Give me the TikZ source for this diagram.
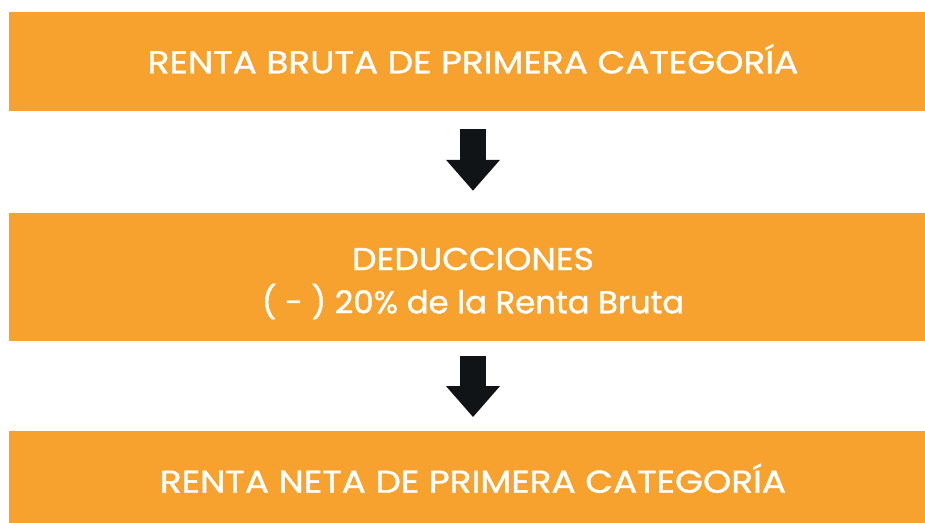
\documentclass[tikz,border=0pt]{standalone}
\usepackage{fontspec}
\setmainfont{Poppins}[FakeStretch=1.14, FakeBold=1.2]
\usetikzlibrary{arrows.meta}

\definecolor{naranja}{HTML}{F7A22E}
\definecolor{negro}{HTML}{111416}

\begin{document}
\begin{tikzpicture}[x=1pt,y=-1pt,
  caja/.style={fill=naranja, minimum width=928pt, inner sep=0pt},
  texto/.style={text=white, inner sep=0pt, anchor=base, font=\fontsize{31.5}{43}\selectfont},
  flecha/.style={negro, line width=26pt, -{Triangle[length=31pt,width=52pt]}}]
\clip (0,0) rectangle (925,522);
\fill[white] (0,0) rectangle (925,522);
% cajas
\node[caja, minimum height=98.7pt] (rb) at (473,61.3) {};
\node[caja, minimum height=128pt] (ded) at (473,276.7) {};
\node[caja, minimum height=100pt] (rn) at (473,480.7) {};
% textos
\node[texto] (t1) at (473,73.3) {RENTA BRUTA DE PRIMERA CATEGORÍA};
\node[texto, font=\fontsize{31.5}{43}\selectfont\addfontfeature{FakeStretch=1.1}] (t2) at (473,270) {DEDUCCIONES};
\node[texto, font=\fontsize{31.5}{43}\selectfont\addfontfeature{FakeStretch=1.025}] (t3) at (473,313.3) {( - ) 20\% de la Renta Bruta};
\node[texto] (t4) at (473,492.7) {RENTA NETA DE PRIMERA CATEGORÍA};
% flechas
\foreach \a/\b/\s/\e in {rb/ded/18.3/21.7, ded/rn/14.6/13.4}{
  \draw[flecha] ([yshift=-\s pt]\a.south) -- ([yshift=\e pt]\b.north);
}
\end{tikzpicture}
\end{document}
